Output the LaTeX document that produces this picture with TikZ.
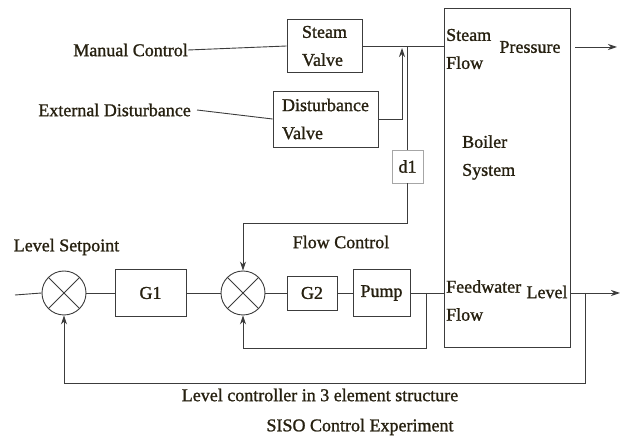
\documentclass[tikz,border=0pt]{standalone}
\usepackage{fontspec}
\setmainfont{Liberation Serif}[FakeBold=1.2]
\usepackage{tikz}
\usetikzlibrary{shapes.geometric, arrows.meta, positioning, calc}
\usepackage{xcolor}
\definecolor{inkline}{RGB}{60,60,60}
\definecolor{inktext}{RGB}{38,32,16}

\begin{document}
\begin{tikzpicture}[x=1pt, y=-1pt,
    every node/.style={font=\fontsize{18}{28}\selectfont, text=inktext},
    lbl/.style={inner sep=0pt, align=left},
    blockbox/.style={draw=inkline, line width=0.9pt, rectangle, align=left, inner sep=0pt},
    sumjunc/.style={draw=inkline, line width=0.9pt, circle, minimum size=44pt, inner sep=0pt},
    wire/.style={draw=inkline, line width=0.9pt},
    arr/.style={wire, -{Stealth[length=9pt, width=6pt]}}]
    \useasboundingbox (0,0) rectangle (625,438);

    % plant side
    \node[blockbox, minimum width=126pt, minimum height=339pt] (boiler) at (507,177.5) {};
    \node[lbl] (steamflow) at (446,49) [anchor=west] {Steam\\Flow};
    \node[lbl] (pressure) at (530,47) {Pressure};
    \node[lbl] (boilertxt) at (462,157.5) [anchor=west] {Boiler\\System};
    \node[lbl] (feedflow) at (446,300.5) [anchor=west] {Feedwater\\Flow};
    \node[lbl] (level) at (547,292) {Level};

    % valves
    \node[blockbox, minimum width=75pt, minimum height=53pt] (sv) at (324.5,46) {Steam\\Valve};
    \node[blockbox, minimum width=105pt, minimum height=56pt] (dv) at (325.5,119) {Disturbance\\Valve};
    \node[lbl] (manual) at (188,50) [anchor=east] {Manual Control};
    \node[lbl] (ext) at (191,110) [anchor=east] {External Disturbance};
    \node[draw=black!35, line width=0.9pt, rectangle, minimum width=31pt, minimum height=33pt, inner sep=0pt] (d1) at (407.5,166.5) {d1};

    % control loop
    \node[sumjunc] (sj1) at (64,293) {};
    \node[sumjunc] (sj2) at (243,293) {};
    \node[blockbox, align=center, minimum width=71pt, minimum height=47pt] (g1) at (150.5,293) {G1};
    \node[blockbox, align=center, minimum width=50pt, minimum height=34pt] (g2) at (312,293) {G2};
    \node[blockbox, align=center, minimum width=57pt, minimum height=47pt] (pump) at (381.5,293) {Pump};
    \foreach \s in {sj1, sj2} {
        \draw[wire] (\s.north west) -- (\s.south east);
        \draw[wire] (\s.north east) -- (\s.south west);
    }
    \node[lbl] (setpt) at (66.5,247) {Level Setpoint};
    \node[lbl] (flowctl) at (341,242) {Flow Control};
    \node[lbl] (lvlctl) at (320,395) {Level controller in 3 element structure};
    \node[lbl] (siso) at (360,427) {SISO Control Experiment};

    \coordinate (in) at (15,295);
    \coordinate (dj) at (402,48);
    \coordinate (pstart) at (575,47);
    \coordinate (pend) at (617,47);
    \coordinate (lout) at (620,293);
    \coordinate (lbr) at (585,293);
    \coordinate (pbr) at (426,293);

    % wiring
    \draw[wire] (manual.east) -- (sv.west);
    \draw[wire] (sv.east) -- (sv.east -| boiler.west);
    \draw[wire] (ext.east) ++(6,0) -- (dv.west);
    \draw[arr] (dv.east) -| (dj);
    \draw[wire] (d1.north) -- (d1.north |- sv.east);
    \draw[arr] (d1.south) -- ++(0,40) -| (sj2.north);
    \draw[arr] (pstart) -- (pend);
    \draw[wire] (in) -- (sj1.west);
    \draw[wire] (sj1.east) -- (g1.west);
    \draw[wire] (g1.east) -- (sj2.west);
    \draw[wire] (sj2.east) -- (g2.west);
    \draw[wire] (g2.east) -- (pump.west);
    \draw[wire] (pump.east) -- (pump.east -| boiler.west);
    \draw[arr] (pbr) -- ++(0,55) -| (sj2.south);
    \draw[arr] (boiler.east |- lout) -- (lout);
    \draw[arr] (lbr) -- ++(0,90) -| (sj1.south);
\end{tikzpicture}
\end{document}
